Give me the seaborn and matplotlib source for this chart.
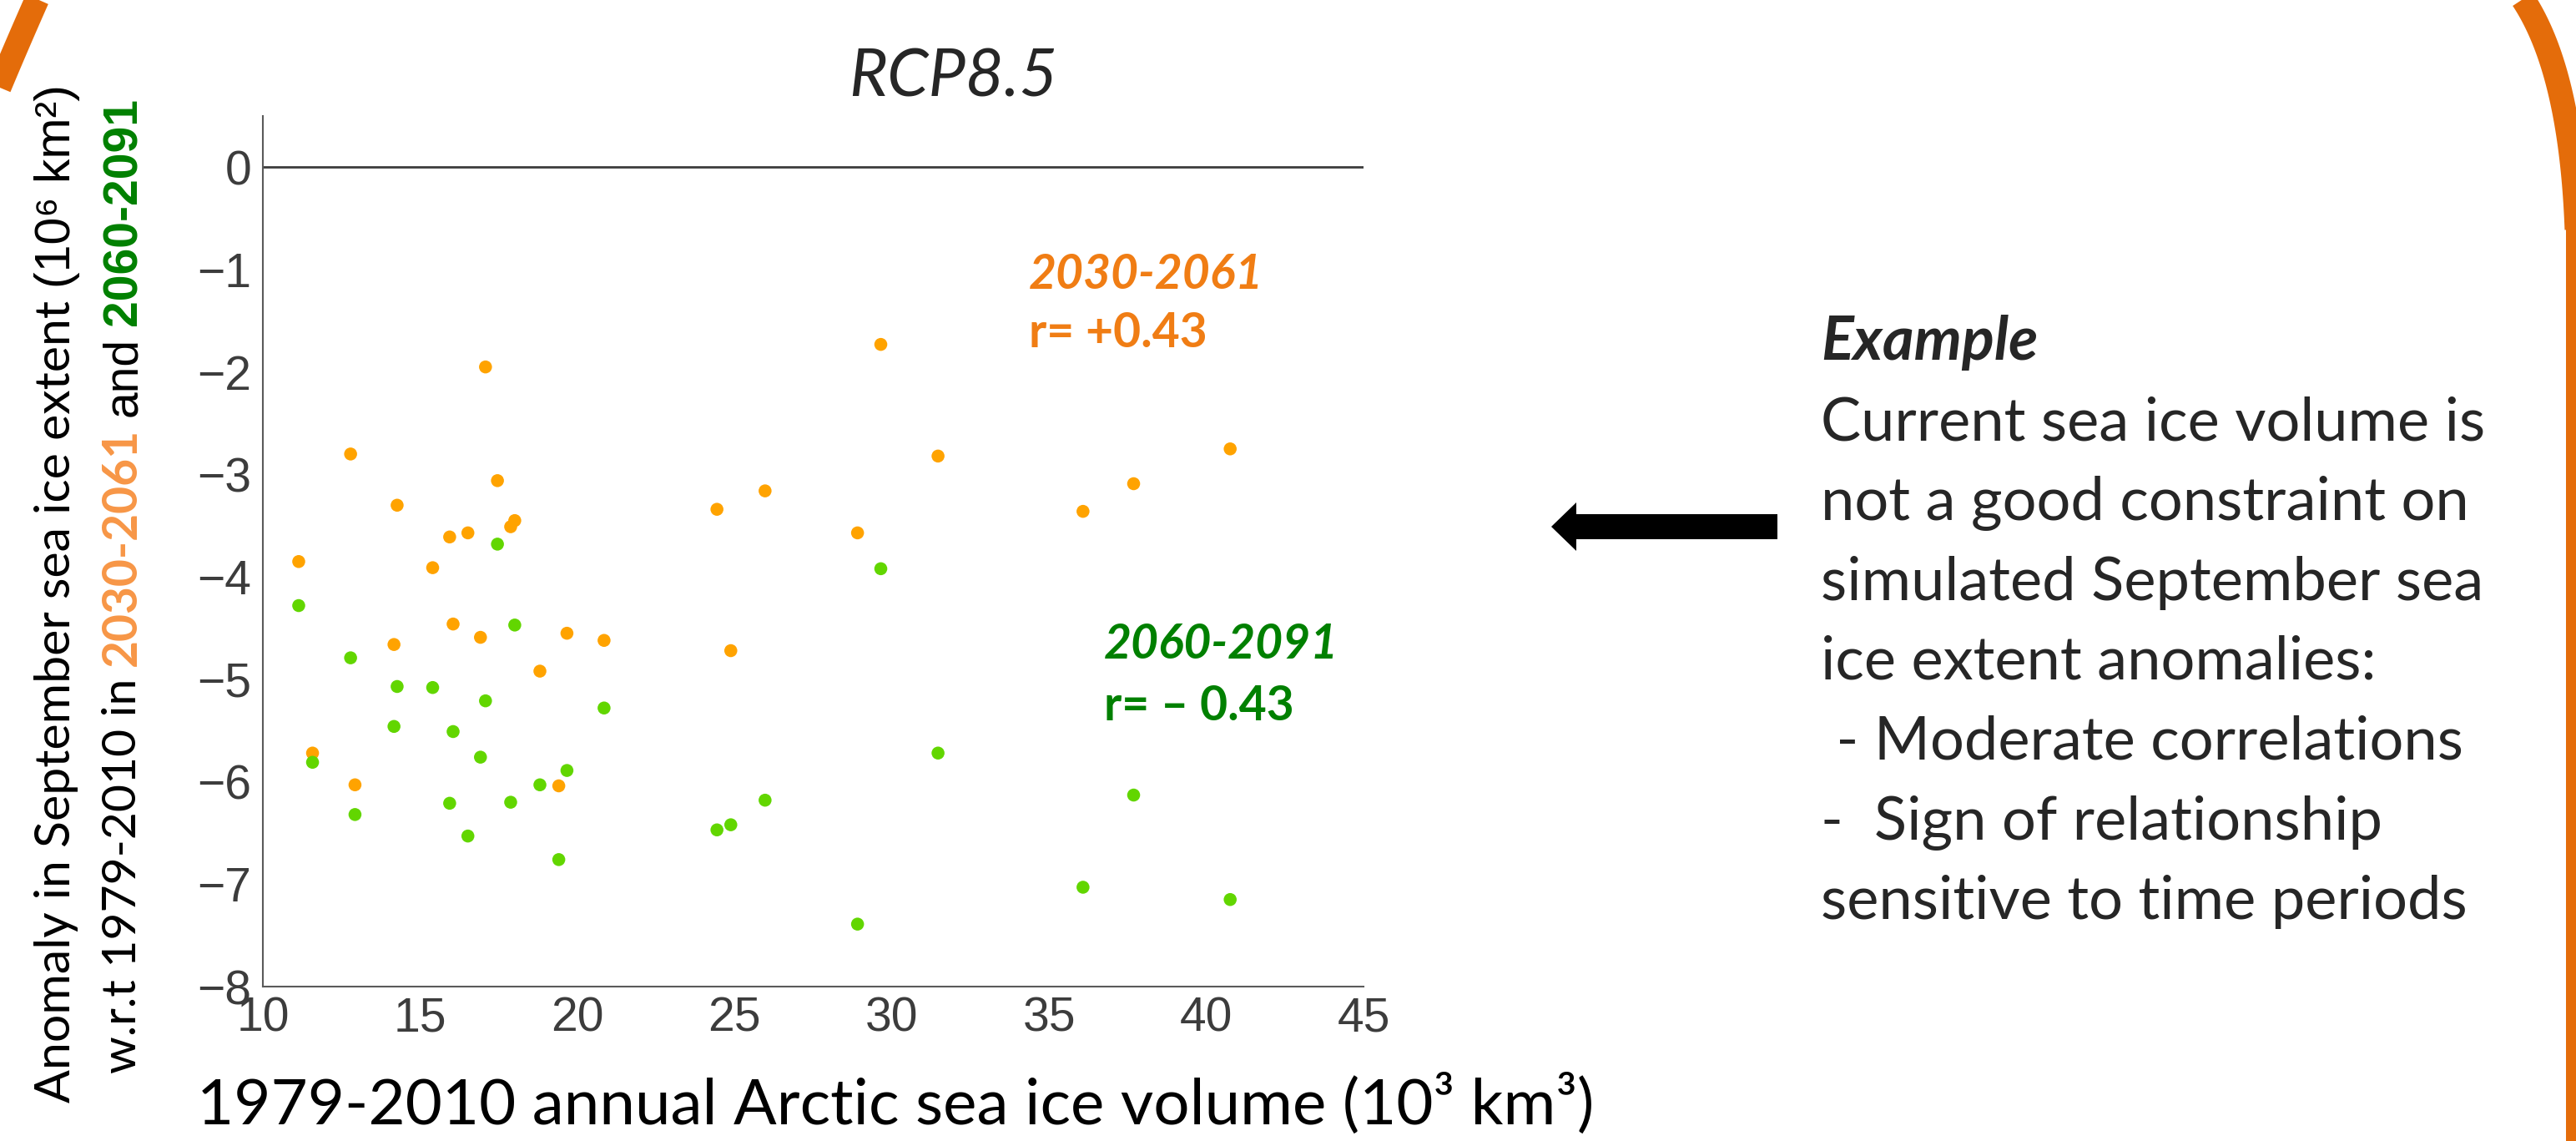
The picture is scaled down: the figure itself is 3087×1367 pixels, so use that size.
import numpy as np
import pandas as pd
import matplotlib
matplotlib.use("Agg")
import matplotlib.pyplot as plt
import seaborn as sns
from matplotlib.patches import FancyArrow, Rectangle
from matplotlib.lines import Line2D

# 1979-2010 mean Arctic sea ice volume per model (10^3 km^3)
volume = [11.14, 11.58, 12.79, 12.93, 14.17, 14.27, 15.40, 15.94, 16.05, 16.52,
          16.92, 17.08, 17.46, 17.88, 18.01, 18.81, 19.41, 19.67, 20.85, 24.44,
          24.88, 25.97, 28.91, 29.65, 31.47, 36.08, 37.69, 40.76]
# September extent anomaly (10^6 km^2), 2030-2061 and 2060-2091
anom_2030 = [-3.85, -5.72, -2.80, -6.03, -4.66, -3.30, -3.91, -3.61, -4.46, -3.57,
             -4.59, -1.95, -3.06, -3.51, -3.45, -4.92, -6.04, -4.55, -4.62, -3.34,
             -4.72, -3.16, -3.57, -1.73, -2.82, -3.36, -3.09, -2.75]
anom_2060 = [-4.28, -5.81, -4.79, -6.32, -5.46, -5.07, -5.08, -6.21, -5.51, -6.53,
             -5.76, -5.21, -3.68, -6.20, -4.47, -6.03, -6.76, -5.89, -5.28, -6.47,
             -6.42, -6.18, -7.39, -3.92, -5.72, -7.03, -6.13, -7.15]
periods = ["2030-2061", "2060-2091"]
r_labels = ["r= +0.43", "r= \u2013 0.43"]
x_ticks = [10, 15, 20, 25, 30, 35, 40, 45]
y_ticks = [0, -1, -2, -3, -4, -5, -6, -7, -8]

bullet_lines = ["Current sea ice volume is",
                "not a good constraint on",
                "simulated September sea",
                "ice extent anomalies:",
                " - Moderate correlations",
                "-  Sign of relationship",
                "sensitive to time periods"]

df = pd.DataFrame({
    "volume": volume * 2,
    "anomaly": anom_2030 + anom_2060,
    "period": [periods[0]] * len(volume) + [periods[1]] * len(volume),
})

W, H = 3087, 1367
sns.set_style("white")
plt.rcParams["font.family"] = ["Liberation Sans", "DejaVu Sans"]
CAL = ["Lato", "DejaVu Sans"]
HEL = ["Liberation Sans", "DejaVu Sans"]

fig = plt.figure(figsize=(W / 100, H / 100), dpi=100)
fig.patch.set_facecolor("white")

def fx(px):
    return px / W

def fy(py):
    return 1 - py / H

ax = fig.add_axes([fx(315), fy(1182), (1634 - 315) / W, (1182 - 139) / H])
ax.axhline(0, color="#3c3c3c", lw=2, zorder=1)
sns.scatterplot(data=df, x="volume", y="anomaly", hue="period",
                palette={periods[0]: "#FFA300", periods[1]: "#62D600"},
                s=125, linewidth=0, legend=False, ax=ax, zorder=3)
ax.set_xlim(10, 45)
ax.set_ylim(-8, 0.5)
ax.set_xticks(x_ticks)
ax.set_yticks(y_ticks)
sns.despine(ax=ax)
for side in ["left", "bottom"]:
    ax.spines[side].set_color("#5a5a5a")
    ax.spines[side].set_linewidth(1.5)
ax.tick_params(direction="in", length=9.5, width=1.1, color="#5a5a5a",
               labelsize=41, labelcolor="#3c3c3c")
ax.tick_params(axis="x", pad=8)
ax.tick_params(axis="y", pad=10)
ax.set_ylabel("")
ax.set_xlabel("1979-2010 annual Arctic sea ice volume (10\u00b3 km\u00b3)",
              family=CAL, fontsize=55, color="black", va="baseline")
ax.xaxis.set_label_coords((1073 - 315) / 1319, (1182 - 1347) / 1043)

# correlation notes
ax.text(34.36, -1.19, periods[0], color="#F07D14", fontsize=41, weight="bold",
        style="italic", family=CAL, va="baseline")
ax.text(34.36, -1.76, r_labels[0], color="#F07D14", fontsize=41, weight="bold",
        family=CAL, va="baseline")
ax.text(36.74, -4.80, periods[1], color="#008000", fontsize=41, weight="bold",
        style="italic", family=CAL, va="baseline")
ax.text(36.74, -5.40, r_labels[1], color="#008000", fontsize=41, weight="bold",
        family=CAL, va="baseline")

fig.text(fx(1142), fy(116), "RCP8.5", ha="center", va="baseline",
         fontsize=57, style="italic", family=CAL)

# two-line, multi-coloured y label
renderer = fig.canvas.get_renderer()

def vertical_line(x_base, y_start, pieces, size):
    y = y_start
    gap = size * 100 / 72 * 0.25
    for txt, kw in pieces:
        t = fig.text(fx(x_base), fy(y), txt, rotation=90, rotation_mode="anchor",
                     ha="left", va="baseline", fontsize=size, **kw)
        bb = t.get_window_extent(renderer)
        y -= bb.height + gap

vertical_line(84, 1321, [
    ("Anomaly in September sea ice extent", dict(family=CAL, color="black")),
    ("(10\u2076 km\u00b2)", dict(family=HEL, color="black")),
], 42.5)
vertical_line(163, 1286, [
    ("w.r.t 1979-2010 in", dict(family=CAL, color="black")),
    ("2030-2061", dict(family=CAL, color="#F79646", weight="bold")),
    ("and", dict(family=HEL, color="black")),
    ("2060-2091", dict(family=HEL, color="#008000", weight="bold")),
], 41)

# arrow and explanation
fig.add_artist(FancyArrow(fx(2130), fy(631), fx(1859) - fx(2130), 0,
                          width=30 / H, head_width=58 / H, head_length=30 / W,
                          length_includes_head=True, transform=fig.transFigure,
                          color="black", lw=0))
fig.text(fx(2182), fy(431), "Example", fontsize=52, weight="bold", style="italic",
         family=CAL, va="baseline")
baselines = [527, 623, 719, 814, 910, 1006, 1101]
for line, yb in zip(bullet_lines, baselines):
    fig.text(fx(2182), fy(yb), line, fontsize=52, family=CAL, va="baseline")

# orange slide frame corners
frame = "#E46C0A"

def bezier(p0, p1, p2, n=60):
    t = np.linspace(0, 1, n)[:, None]
    return (1 - t) ** 2 * np.array(p0) + 2 * t * (1 - t) * np.array(p1) + t ** 2 * np.array(p2)

right = bezier((3000, -30), (3089, 60), (3089, 330))
left = bezier((62, -40), (12, 70), (-40, 200))
for pts in (right, left):
    fig.add_artist(Line2D(pts[:, 0] / W, 1 - pts[:, 1] / H, transform=fig.transFigure,
                          color=frame, lw=21, solid_capstyle="butt"))
fig.add_artist(Rectangle((fx(3075), 0), fx(W) - fx(3075), fy(190),
                         transform=fig.transFigure, color=frame, lw=0))

fig.savefig("out.png", dpi=100, facecolor="white")
